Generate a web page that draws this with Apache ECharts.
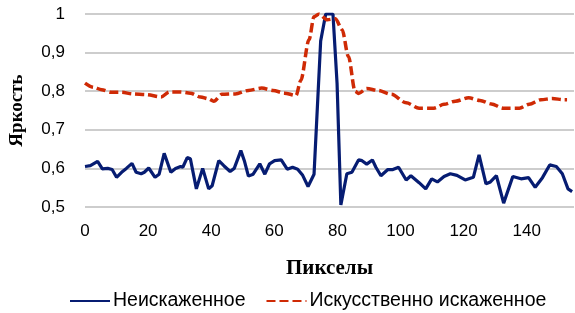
<!DOCTYPE html>
<html>
<head>
<meta charset="utf-8">
<script src="https://cdn.jsdelivr.net/npm/echarts@6/dist/echarts.min.js"></script>
<style>
  html, body { margin: 0; padding: 0; background: #fff; }
  #chart { width: 575px; height: 313px; }
</style>
</head>
<body>
<div id="chart"></div>
<script>
// данные
const seriesNames = ['Неискаженное', 'Искусственно искаженное']

const cleanX = [0, 1.7, 4, 5.5, 7.2, 8.6, 10, 11.6, 13.1, 14.9, 16.2, 17.8, 18.8, 20.2, 22.2, 23.5, 25.1, 27.2, 28.7, 30.3, 31, 32.4, 33.4, 35.3, 37.3, 39.2, 40.3, 42.4, 44, 46, 47.3, 49.4, 50.5, 51.8, 53.3, 55.4, 57, 58.5, 60.1, 62.2, 64.1, 65.8, 67.4, 69, 70.7, 72.6, 74.7, 76.3, 78.6, 79.9, 81.1, 83, 84.6, 86.7, 87.8, 89.3, 91.1, 92.2, 93.8, 96, 97.6, 99.4, 101.8, 103.3, 105.9, 108, 109.9, 111.7, 113.8, 115.8, 117.9, 120.5, 123.1, 124.9, 127.1, 128.5, 130.4, 132.7, 135.6, 138.2, 140.6, 142.7, 145, 147.3, 149.4, 151.3, 153.1, 154.4]
const cleanY = [0.605, 0.607, 0.618, 0.599, 0.6, 0.597, 0.577, 0.59, 0.6, 0.613, 0.59, 0.586, 0.59, 0.601, 0.577, 0.585, 0.639, 0.59, 0.6, 0.605, 0.603, 0.628, 0.625, 0.547, 0.6, 0.547, 0.555, 0.62, 0.607, 0.592, 0.6, 0.646, 0.62, 0.58, 0.585, 0.612, 0.585, 0.612, 0.62, 0.622, 0.598, 0.603, 0.598, 0.582, 0.553, 0.585, 0.93, 1.0, 1.0, 0.82, 0.505, 0.586, 0.59, 0.622, 0.62, 0.611, 0.622, 0.603, 0.581, 0.597, 0.597, 0.603, 0.57, 0.581, 0.563, 0.547, 0.573, 0.565, 0.579, 0.586, 0.582, 0.57, 0.577, 0.635, 0.56, 0.565, 0.581, 0.51, 0.579, 0.573, 0.576, 0.551, 0.576, 0.609, 0.605, 0.586, 0.547, 0.54]

const distortedX = [0, 2.7, 5.3, 8.4, 11.6, 15.2, 19.4, 24.1, 26.7, 30.3, 33.4, 36.6, 39.2, 40.8, 43.4, 47.6, 51.8, 56, 59.6, 63.2, 66.9, 68.4, 71, 72.6, 74.2, 76.8, 79.4, 81.5, 83.5, 85.6, 86.7, 89.3, 92.9, 97.1, 101.8, 105.9, 110.6, 113.8, 117.4, 121.6, 125.2, 128.8, 132.5, 137.7, 140.8, 144.5, 148.1, 151.8, 152.8]
const distortedY = [0.821, 0.81, 0.804, 0.797, 0.797, 0.793, 0.791, 0.785, 0.798, 0.798, 0.795, 0.785, 0.78, 0.774, 0.792, 0.793, 0.802, 0.808, 0.802, 0.795, 0.789, 0.828, 0.933, 0.993, 1.0, 0.985, 0.988, 0.959, 0.89, 0.8, 0.794, 0.807, 0.802, 0.792, 0.77, 0.756, 0.756, 0.766, 0.774, 0.783, 0.776, 0.767, 0.756, 0.756, 0.766, 0.778, 0.781, 0.778, 0.778]

const zip = (xs, ys) => xs.map((x, i) => [x, ys[i]])

const chart = echarts.init(document.getElementById('chart'))

chart.setOption({
  animation: false,
  grid: { left: 81, right: 1, top: 14, bottom: 106 },
  legend: {
    left: 64,
    top: 286,
    itemWidth: 40,
    itemHeight: 14,
    itemGap: 20,
    itemStyle: { opacity: 0 },
    textStyle: { fontFamily: 'Liberation Sans', fontSize: 19.5, color: '#000', padding: [0, 0, 0, -2] },
    data: seriesNames
  },
  xAxis: {
    type: 'value',
    min: 0,
    max: 155,
    interval: 20,
    name: 'Пикселы',
    nameLocation: 'middle',
    nameGap: 51,
    nameTextStyle: { fontFamily: 'Liberation Serif', fontWeight: 'bold', fontSize: 21, color: '#000' },
    axisLine: { show: false },
    axisTick: { show: false },
    splitLine: { show: false },
    axisLabel: {
      showMaxLabel: false,
      margin: 16,
      fontFamily: 'Liberation Sans',
      fontSize: 17,
      color: '#000'
    }
  },
  yAxis: {
    type: 'value',
    min: 0.5,
    max: 1,
    interval: 0.1,
    name: 'Яркость',
    nameLocation: 'middle',
    nameGap: 58,
    nameTextStyle: { fontFamily: 'Liberation Serif', fontWeight: 'bold', fontSize: 19, color: '#000' },
    axisLine: { show: false },
    axisTick: { show: false },
    splitLine: { lineStyle: { color: '#bcbcbc', width: 1.5 } },
    axisLabel: {
      margin: 20,
      fontFamily: 'Liberation Sans',
      fontSize: 17,
      color: '#000',
      formatter: v => (v === 1 ? '1' : v.toFixed(1).replace('.', ','))
    }
  },
  series: [
    {
      name: seriesNames[0],
      type: 'line',
      symbol: 'none',
      lineStyle: { color: '#061c72', width: 3.2 },
      itemStyle: { color: '#061c72' },
      data: zip(cleanX, cleanY)
    },
    {
      name: seriesNames[1],
      type: 'line',
      symbol: 'none',
      smooth: 0.3,
      smoothMonotone: 'x',
      lineStyle: { color: '#cf2a05', width: 3.5, type: [9, 4] },
      itemStyle: { color: '#cf2a05' },
      data: zip(distortedX, distortedY)
    }
  ]
})
</script>
</body>
</html>
